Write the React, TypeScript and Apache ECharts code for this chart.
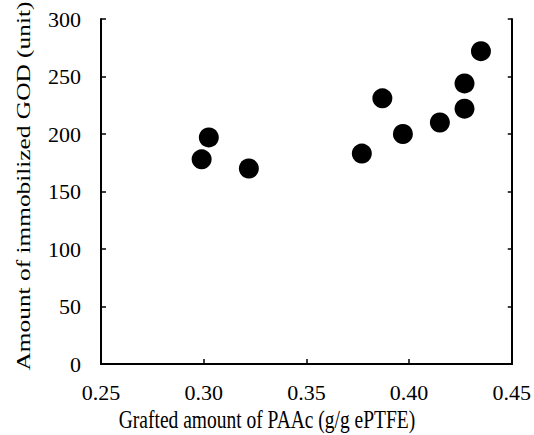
import React, { useEffect, useRef } from "react";
import * as echarts from "echarts";

const graftedAmount = [0.299, 0.3025, 0.322, 0.377, 0.387, 0.397, 0.415, 0.427, 0.427, 0.435];
const immobilizedGOD = [178, 197, 170, 183, 231, 200, 210, 222, 244, 272];
const xTicks = [0.25, 0.3, 0.35, 0.4, 0.45];
const yTicks = [0, 50, 100, 150, 200, 250, 300];
const xTitle = "Grafted amount of PAAc (g/g ePTFE)";
const yTitle = "Amount of immobilized GOD (unit)";

const FONT = "Liberation Serif";

export default function App() {
  const ref = useRef<HTMLDivElement>(null);
  useEffect(() => {
    if (!ref.current) return;
    const chart = echarts.init(ref.current, undefined, { renderer: "svg" });
    const data = graftedAmount.map((x, i) => [x, immobilizedGOD[i]]);
    chart.setOption({
      animation: false,
      backgroundColor: "#fff",
      grid: { left: 101, right: 18, top: 19, bottom: 71, containLabel: false },
      graphic: [
        {
          type: "text",
          x: 267,
          y: 420,
          scaleY: 1.25,
          style: {
            text: xTitle,
            fontFamily: FONT,
            fontSize: 19.5,
            fill: "#000",
            align: "center",
            verticalAlign: "middle",
          },
        },
        {
          type: "text",
          x: 24,
          y: 186,
          rotation: Math.PI / 2,
          scaleX: 1.3,
          style: {
            text: yTitle,
            fontFamily: FONT,
            fontSize: 19.5,
            fill: "#000",
            align: "center",
            verticalAlign: "middle",
          },
        },
      ],
      xAxis: [
        {
          type: "value",
          min: xTicks[0],
          max: xTicks[xTicks.length - 1],
          interval: 0.05,
          position: "bottom",
          axisLine: { show: true, lineStyle: { color: "#000", width: 2 } },
          axisTick: { show: true, inside: true, length: 5, lineStyle: { color: "#000", width: 1.5 } },
          axisLabel: {
            fontFamily: FONT,
            fontSize: 22,
            color: "#000",
            margin: 17,
            formatter: (v: number) => v.toFixed(2),
          },
          splitLine: { show: false },
        },
        {
          type: "value",
          min: xTicks[0],
          max: xTicks[xTicks.length - 1],
          interval: 0.05,
          position: "top",
          axisLine: { show: true, lineStyle: { color: "#000", width: 2 } },
          axisTick: { show: false },
          axisLabel: { show: false },
          splitLine: { show: false },
        },
      ],
      yAxis: [
        {
          type: "value",
          min: yTicks[0],
          max: yTicks[yTicks.length - 1],
          interval: 50,
          position: "left",
          axisLine: { show: true, lineStyle: { color: "#000", width: 2 } },
          axisTick: { show: true, inside: true, length: 5, lineStyle: { color: "#000", width: 1.5 } },
          axisLabel: { fontFamily: FONT, fontSize: 22, color: "#000", margin: 20 },
          splitLine: { show: false },
        },
        {
          type: "value",
          min: yTicks[0],
          max: yTicks[yTicks.length - 1],
          interval: 50,
          position: "right",
          axisLine: { show: true, lineStyle: { color: "#000", width: 2 } },
          axisTick: { show: true, inside: true, length: 4, lineStyle: { color: "#000", width: 1.5 } },
          axisLabel: { show: false },
          splitLine: { show: false },
        },
      ],
      series: [
        {
          type: "scatter",
          data,
          symbol: "circle",
          symbolSize: 20,
          itemStyle: { color: "#000", opacity: 1 },
        },
      ],
    });
    return () => chart.dispose();
  }, []);
  return <div ref={ref} style={{ width: 534, height: 435, position: "absolute", left: 0, top: 0 }} />;
}
